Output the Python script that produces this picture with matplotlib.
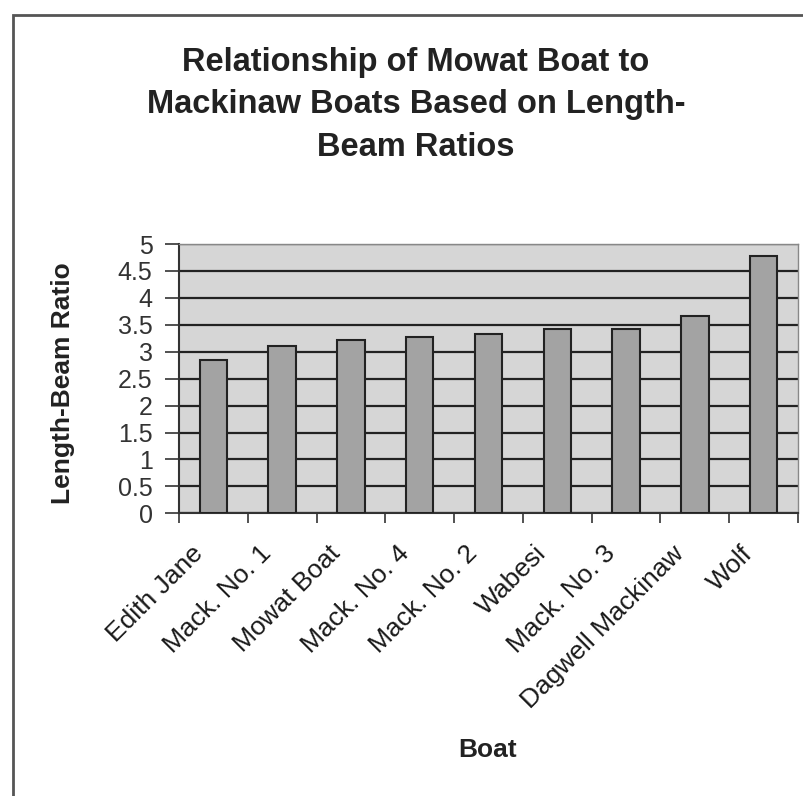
import matplotlib.pyplot as plt
from matplotlib.patches import Rectangle
from matplotlib.transforms import ScaledTranslation

boats = ["Edith Jane", "Mack. No. 1", "Mowat Boat", "Mack. No. 4", "Mack. No. 2",
         "Wabesi", "Mack. No. 3", "Dagwell Mackinaw", "Wolf"]
ratios = [2.85, 3.10, 3.22, 3.27, 3.33, 3.42, 3.42, 3.67, 4.78]
yticks = [0, 0.5, 1, 1.5, 2, 2.5, 3, 3.5, 4, 4.5, 5]
ytick_labels = ["0", "0.5", "1", "1.5", "2", "2.5", "3", "3.5", "4", "4.5", "5"]

plt.rcParams['font.family'] = ['Liberation Sans', 'DejaVu Sans']

fig = plt.figure(figsize=(8.04, 7.96), dpi=100)
fig.patch.set_facecolor('white')

# outer chart frame
fig.patches.append(Rectangle((13 / 804, -0.05), 1.2, 1 - 15 / 796 + 0.05,
                             transform=fig.transFigure, fill=False,
                             edgecolor='#555555', linewidth=2))

ax = fig.add_axes([179 / 804, 1 - 513.3 / 796, (798 - 179) / 804, (513.3 - 244) / 796])
ax.set_facecolor('#d6d6d6')

x = list(range(len(boats)))
ax.bar(x, ratios, width=0.4, color='#a3a3a3', edgecolor='#222222', linewidth=1.5, zorder=3)

ax.set_xlim(-0.5, len(boats) - 0.5)
ax.set_ylim(0, 5)
ax.set_yticks(yticks)
ax.set_yticklabels(ytick_labels)
ax.yaxis.grid(True, color='#222222', linewidth=1.6, zorder=1)
ax.set_axisbelow(True)

ax.set_xticks([i - 0.5 for i in range(len(boats) + 1)], minor=False)
ax.set_xticklabels([])
ax.set_xticks(x, minor=True)
ax.set_xticklabels(boats, minor=True, rotation=45, ha='right', va='top',
                   rotation_mode='anchor', fontsize=19, color='#1a1a1a')
ax.tick_params(axis='x', which='minor', length=0, pad=10)
ax.tick_params(axis='x', which='major', length=7, width=1.2, direction='out', color='#333333')
ax.tick_params(axis='y', length=10, width=1.2, labelsize=18, labelcolor='#333333', color='#333333', pad=9)

# shift rotated labels so their ends sit left of the category centre
shift = ScaledTranslation(-0.23, -0.14, fig.dpi_scale_trans)
for lab in ax.get_xticklabels(minor=True):
    lab.set_transform(lab.get_transform() + shift)

for side in ['top', 'right']:
    ax.spines[side].set_color('#888888')
    ax.spines[side].set_linewidth(1)
for side in ['left', 'bottom']:
    ax.spines[side].set_color('#333333')
    ax.spines[side].set_linewidth(1.5)

fig.text(63 / 804, 1 - 383 / 796, "Length-Beam Ratio", fontsize=19, fontweight='bold',
         rotation=90, ha='center', va='center', color='#222222')

fig.text(488 / 804, 1 - 750 / 796, "Boat", fontsize=19, fontweight='bold',
         ha='center', va='center', color='#222222')

fig.text(416 / 804, 1 - 105 / 796,
         "Relationship of Mowat Boat to\nMackinaw Boats Based on Length-\nBeam Ratios",
         fontsize=23.5, fontweight='bold', ha='center', va='center', linespacing=1.5,
         color='#222222')

fig.savefig("out.png", dpi=100)
